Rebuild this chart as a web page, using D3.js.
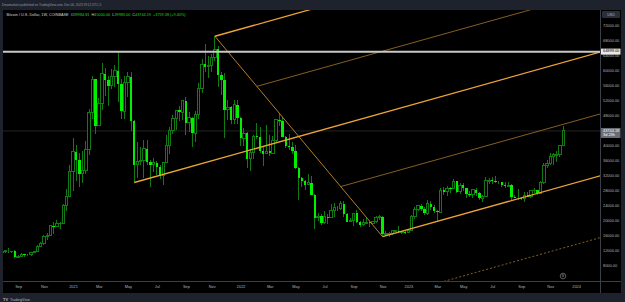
<!DOCTYPE html>
<html>
<head>
<meta charset="utf-8">
<script src="https://cdn.jsdelivr.net/npm/d3@7"></script>
<style>
	body { margin: 0; background: #1e222d; }
	svg { display: block; }
</style>
</head>
<body>
<div id="chart"></div>
<script>
	//
	// Data (weekly candles, COINBASE BTCUSD): [week, open, high, low, close]
	//
	var bars2020 = [
		["2020-08-03", 11230, 11900, 11000, 11680], ["2020-08-10", 11680, 12100, 11150, 11860],
		["2020-08-17", 11860, 12480, 11300, 11650], ["2020-08-24", 11650, 11800, 11150, 11710],
		["2020-08-31", 11710, 12090, 9960, 10250], ["2020-09-07", 10250, 10600, 9880, 10330],
		["2020-09-14", 10330, 11100, 10200, 10930], ["2020-09-21", 10930, 10990, 10140, 10770],
		["2020-09-28", 10770, 10950, 10530, 10670], ["2020-10-05", 10670, 11450, 10530, 11370],
		["2020-10-12", 11370, 11720, 11200, 11500], ["2020-10-19", 11500, 13350, 11400, 13030],
		["2020-10-26", 13030, 14100, 12900, 13760], ["2020-11-02", 13760, 15970, 13220, 15480],
		["2020-11-09", 15480, 16480, 14800, 15960], ["2020-11-16", 15960, 18800, 15800, 18420],
		["2020-11-23", 18420, 19480, 16200, 18200], ["2020-11-30", 18200, 19920, 18100, 19170],
		["2020-12-07", 19170, 19420, 17600, 19180], ["2020-12-14", 19180, 24300, 19000, 23850],
		["2020-12-21", 23850, 28400, 22400, 26250], ["2020-12-28", 26250, 34800, 26100, 33000]
	];
	var bars2021 = [
		["2021-01-04", 33000, 41950, 27730, 38180], ["2021-01-11", 38180, 40100, 30300, 36020],
		["2021-01-18", 36020, 37850, 28850, 32270], ["2021-01-25", 32270, 38500, 29900, 33110],
		["2021-02-01", 33110, 40950, 32300, 38880], ["2021-02-08", 38880, 49700, 37400, 48580],
		["2021-02-15", 48580, 58350, 47000, 57490], ["2021-02-22", 57490, 57500, 43000, 45140],
		["2021-03-01", 45140, 52650, 45000, 50970], ["2021-03-08", 50970, 61800, 49300, 59000],
		["2021-03-15", 59000, 60600, 53100, 57400], ["2021-03-22", 57400, 58400, 50400, 55800],
		["2021-03-29", 55800, 60200, 54900, 58200], ["2021-04-05", 58200, 61250, 55500, 59800],
		["2021-04-12", 59800, 64899, 51500, 56200], ["2021-04-19", 56200, 57500, 47050, 49000],
		["2021-04-26", 49000, 58500, 47000, 56600], ["2021-05-03", 56600, 59500, 52900, 58200],
		["2021-05-10", 58200, 59600, 43800, 46400], ["2021-05-17", 46400, 46600, 30000, 34700],
		["2021-05-24", 34700, 40900, 31100, 35600], ["2021-05-31", 35600, 39500, 34800, 35800],
		["2021-06-07", 35800, 41300, 31100, 39000], ["2021-06-14", 39000, 41300, 34800, 35500],
		["2021-06-21", 35500, 36000, 28800, 34700], ["2021-06-28", 34700, 36600, 32700, 35300],
		["2021-07-05", 35300, 35800, 32100, 34250], ["2021-07-12", 34250, 34700, 31000, 31800],
		["2021-07-19", 31800, 35400, 29300, 35400], ["2021-07-26", 35400, 42600, 35200, 39900],
		["2021-08-02", 39900, 44700, 37500, 43800], ["2021-08-09", 43800, 48100, 43000, 47000],
		["2021-08-16", 47000, 49400, 43900, 49300], ["2021-08-23", 49300, 50500, 46400, 48800],
		["2021-08-30", 48800, 52000, 46800, 51750], ["2021-09-06", 51750, 52900, 42800, 46000],
		["2021-09-13", 46000, 48850, 43400, 47250], ["2021-09-20", 47250, 47400, 39600, 43200],
		["2021-09-27", 43200, 49000, 40800, 48200], ["2021-10-04", 48200, 56600, 46900, 55000],
		["2021-10-11", 55000, 62900, 53900, 61500], ["2021-10-18", 61500, 67000, 59600, 60900],
		["2021-10-25", 60900, 63700, 57800, 61300], ["2021-11-01", 61300, 64300, 59400, 63300],
		["2021-11-08", 63300, 69000, 62300, 65500], ["2021-11-15", 65500, 66300, 55600, 58700],
		["2021-11-22", 58700, 59500, 53300, 57300], ["2021-11-29", 57300, 59200, 42000, 49400],
		["2021-12-06", 49400, 51950, 46800, 50100], ["2021-12-13", 50100, 50500, 45500, 46700],
		["2021-12-20", 46700, 52000, 45600, 50800], ["2021-12-27", 50800, 52100, 45700, 47300]
	];
	var bars2022 = [
		["2022-01-03", 47300, 47550, 39650, 41850], ["2022-01-10", 41850, 44500, 39700, 43100],
		["2022-01-17", 43100, 43500, 34000, 36300], ["2022-01-24", 36300, 38900, 32950, 37900],
		["2022-01-31", 37900, 42700, 36300, 42400], ["2022-02-07", 42400, 45850, 41700, 42200],
		["2022-02-14", 42200, 44750, 38000, 38400], ["2022-02-21", 38400, 39800, 34300, 37700],
		["2022-02-28", 37700, 45400, 37600, 38400], ["2022-03-07", 38400, 42600, 37200, 37800],
		["2022-03-14", 37800, 42300, 37500, 41300], ["2022-03-21", 41300, 46900, 40500, 46800],
		["2022-03-28", 46800, 48200, 45200, 46400], ["2022-04-04", 46400, 47500, 42100, 42200],
		["2022-04-11", 42200, 42400, 39200, 39700], ["2022-04-18", 39700, 42900, 38600, 39450],
		["2022-04-25", 39450, 40800, 37700, 38500], ["2022-05-02", 38500, 40000, 33700, 34000],
		["2022-05-09", 34000, 34250, 25400, 31300], ["2022-05-16", 31300, 31400, 28700, 30300],
		["2022-05-23", 30300, 30700, 28000, 29450], ["2022-05-30", 29450, 32250, 29300, 29900],
		["2022-06-06", 29900, 31700, 26550, 26600], ["2022-06-13", 26600, 26900, 17600, 20550],
		["2022-06-20", 20550, 22000, 19800, 21000], ["2022-06-27", 21000, 21550, 18600, 19300],
		["2022-07-04", 19300, 22500, 19000, 20850], ["2022-07-11", 20850, 21600, 18900, 20800],
		["2022-07-18", 20800, 24300, 20800, 22600], ["2022-07-25", 22600, 24650, 20700, 23300],
		["2022-08-01", 23300, 23650, 22400, 23200], ["2022-08-08", 23200, 25200, 22650, 24300],
		["2022-08-15", 24300, 25000, 20800, 21500], ["2022-08-22", 21500, 21900, 19550, 19550],
		["2022-08-29", 19550, 20600, 19600, 19800], ["2022-09-05", 19800, 21850, 18500, 21800],
		["2022-09-12", 21800, 22800, 19300, 19400], ["2022-09-19", 19400, 19700, 18150, 18800],
		["2022-09-26", 18800, 20400, 18500, 19300], ["2022-10-03", 19300, 20450, 19100, 19400],
		["2022-10-10", 19400, 19500, 18200, 19200], ["2022-10-17", 19200, 19700, 18900, 19600],
		["2022-10-24", 19600, 21000, 19250, 20800], ["2022-10-31", 20800, 21450, 20050, 20900],
		["2022-11-07", 20900, 21050, 15600, 16300], ["2022-11-14", 16300, 17200, 15800, 16300],
		["2022-11-21", 16300, 16800, 15500, 16450], ["2022-11-28", 16450, 17350, 16000, 17100],
		["2022-12-05", 17100, 17300, 16700, 17100], ["2022-12-12", 17100, 18400, 16600, 16750],
		["2022-12-19", 16750, 17000, 16300, 16850], ["2022-12-26", 16850, 16950, 16350, 16600]
	];
	var bars2023 = [
		["2023-01-02", 16600, 17400, 16500, 17100], ["2023-01-09", 17100, 21300, 17100, 20900],
		["2023-01-16", 20900, 23350, 20400, 22700], ["2023-01-23", 22700, 23800, 22300, 23750],
		["2023-01-30", 23750, 24250, 22500, 22950], ["2023-02-06", 22950, 23400, 21450, 21800],
		["2023-02-13", 21800, 25250, 21350, 24300], ["2023-02-20", 24300, 25100, 22750, 23550],
		["2023-02-27", 23550, 23900, 21950, 22400], ["2023-03-06", 22400, 22600, 19600, 22100],
		["2023-03-13", 22100, 28500, 21900, 27950], ["2023-03-20", 27950, 28850, 26650, 27500],
		["2023-03-27", 27500, 29150, 26500, 28450], ["2023-04-03", 28450, 28800, 27200, 28300],
		["2023-04-10", 28300, 31000, 28200, 30300], ["2023-04-17", 30300, 30500, 27150, 27600],
		["2023-04-24", 27600, 30000, 26950, 29250], ["2023-05-01", 29250, 29800, 27650, 28450],
		["2023-05-08", 28450, 28650, 25800, 26900], ["2023-05-15", 26900, 27650, 26100, 26750],
		["2023-05-22", 26750, 28250, 25850, 28050], ["2023-05-29", 28050, 28450, 26500, 27100],
		["2023-06-05", 27100, 27400, 25350, 25850], ["2023-06-12", 25850, 26800, 24800, 26350],
		["2023-06-19", 26350, 31400, 26250, 30500], ["2023-06-26", 30500, 31300, 29550, 30600],
		["2023-07-03", 30600, 31400, 29700, 30300], ["2023-07-10", 30300, 31800, 29950, 30250],
		["2023-07-17", 30250, 30350, 29550, 30050], ["2023-07-24", 30050, 30050, 28850, 29250],
		["2023-07-31", 29250, 30050, 28600, 29050], ["2023-08-07", 29050, 30250, 28700, 29300],
		["2023-08-14", 29300, 29700, 25200, 26100], ["2023-08-21", 26100, 26800, 25800, 26000],
		["2023-08-28", 26000, 28150, 25400, 25850], ["2023-09-04", 25850, 26100, 25350, 25830],
		["2023-09-11", 25830, 27500, 24900, 26550], ["2023-09-18", 26550, 27450, 26300, 26250],
		["2023-09-25", 26250, 28050, 26000, 27950], ["2023-10-02", 27950, 28600, 27200, 27950],
		["2023-10-09", 27950, 28000, 26550, 27150], ["2023-10-16", 27150, 30350, 26950, 29950],
		["2023-10-23", 29950, 35250, 29700, 34500], ["2023-10-30", 34500, 35950, 33950, 35000],
		["2023-11-06", 35000, 37950, 34550, 37050], ["2023-11-13", 37050, 37950, 34800, 37350],
		["2023-11-20", 37350, 38450, 35600, 37450], ["2023-11-27", 37450, 40000, 36700, 39985],
		["2023-12-04", 39984.81, 45000, 39983, 43744.19]
	];

	var priceTicks = [8000, 12000, 16000, 20000, 24000, 28000, 32000, 36000, 40000, 44000, 48000, 52000, 56000, 60000, 64000, 68000, 72000];
	var monthTicks = ["2020-09-07", "2020-11-02", "2021-01-04", "2021-03-01", "2021-05-03", "2021-07-05", "2021-09-06", "2021-11-01",
		"2022-01-03", "2022-03-07", "2022-05-02", "2022-07-04", "2022-09-05", "2022-11-07", "2023-01-02", "2023-03-06",
		"2023-05-01", "2023-07-03", "2023-09-04", "2023-11-06", "2024-01-01"];
	var monthLabels = ["Sep", "Nov", "2021", "Mar", "May", "Jul", "Sep", "Nov", "2022", "Mar", "May", "Jul", "Sep", "Nov",
		"2023", "Mar", "May", "Jul", "Sep", "Nov", "2024"];

	// Pitchfork anchors: handle, top, bottom
	var forkDates = ["2021-05-17", "2021-11-08", "2022-11-07"];
	var forkPrices = [30000, 69000, 15550];
	var forkLevels = [-0.25, 0, 0.25, 0.75, 1, 1.25]; // fraction along top->bottom where parallels start

	var hlinePrice = 64899;
	var lastPrice = 43744.19;

	var headerTop = "Dreamarkets published on TradingView.com, Dec 06, 2023 19:12 UTC-5";
	var headerSymbol = "Bitcoin / U.S. Dollar, 1W, COINBASE";
	var headerOHLC = [["O", "39984.81"], ["H", "45000.00"], ["L", "39983.00"], ["C", "43744.19"], ["", "+3759.38 (+9.40%)"]];

	var font = "'Liberation Sans', Arial, sans-serif";
	var axisColor = "#b2b5be";

	//
	// Setup
	//
	var svg_width = 625,
		svg_height = 302;
	var plotLeft = 3, plotRight = 600, plotTop = 10, plotBottom = 281;

	var parseDate = d3.utcParse("%Y-%m-%d");
	var bars = bars2020.concat(bars2021, bars2022, bars2023);

	var xScale = d3.scaleUtc()
		.domain([parseDate("2021-01-04"), parseDate("2023-12-04")])
		.range([73, 563.2]);
	var yScale = d3.scaleLinear().domain([0, 72000]).range([295, 25]);

	var svg = d3.select("#chart").append("svg")
		.attr("width", svg_width)
		.attr("height", svg_height)
		.style("font-family", font);

	// Frame + black panel
	svg.append("rect").attr("width", svg_width).attr("height", svg_height).attr("fill", "#1e222d");
	svg.append("rect").attr("x", plotLeft).attr("y", plotTop).attr("width", 621 - plotLeft).attr("height", 293 - plotTop).attr("fill", "#000");

	svg.append("defs").append("clipPath").attr("id", "plot-clip")
		.append("rect").attr("x", plotLeft).attr("y", plotTop).attr("width", plotRight - plotLeft).attr("height", plotBottom - plotTop);

	var plot = svg.append("g").attr("clip-path", "url(#plot-clip)");

	// Last price line
	plot.append("line")
		.attr("x1", plotLeft).attr("x2", plotRight)
		.attr("y1", yScale(lastPrice)).attr("y2", yScale(lastPrice))
		.attr("stroke", "#2c2c2c").attr("stroke-width", 0.8);

	//
	// Candles
	//
	var candleW = 2.4;
	var candles = plot.selectAll(".candle")
		.data(bars)
		.enter()
		.append("g")
		.attr("class", "candle")
		.attr("shape-rendering", "crispEdges");

	candles.append("line")
		.attr("x1", function(d) { return xScale(parseDate(d[0])); })
		.attr("x2", function(d) { return xScale(parseDate(d[0])); })
		.attr("y1", function(d) { return yScale(d[2]); })
		.attr("y2", function(d) { return yScale(d[3]); })
		.attr("stroke", "#127a12")
		.attr("stroke-width", 1);

	candles.append("rect")
		.attr("x", function(d) { return xScale(parseDate(d[0])) - candleW / 2; })
		.attr("y", function(d) { return yScale(Math.max(d[1], d[4])); })
		.attr("width", candleW)
		.attr("height", function(d) { return Math.max(0.8, Math.abs(yScale(d[1]) - yScale(d[4]))); })
		.attr("fill", function(d) { return d[4] >= d[1] ? "#000" : "#00f000"; })
		.attr("stroke", function(d) { return d[4] >= d[1] ? "#127a12" : "none"; })
		.attr("stroke-width", 1);

	//
	// Pitchfork
	//
	var pts = forkDates.map(function(d, i) { return [xScale(parseDate(d)), yScale(forkPrices[i])]; });
	var A = pts[0], B = pts[1], C = pts[2];
	var M = [(B[0] + C[0]) / 2, (B[1] + C[1]) / 2];
	var dir = [M[0] - A[0], M[1] - A[1]];

	function toRight(p) {
		var k = (620 - p[0]) / dir[0];
		return [620, p[1] + k * dir[1]];
	}

	var forkLines = [{ p: A, kind: "main" }];
	forkLevels.forEach(function(t) {
		var kind = (t == 0 || t == 1) ? "main" : (t == 0.25 || t == 0.75) ? "half" : "ext";
		forkLines.push({ p: [B[0] + t * (C[0] - B[0]), B[1] + t * (C[1] - B[1])], kind: kind });
	});

	plot.append("line")
		.attr("x1", B[0]).attr("y1", B[1]).attr("x2", C[0]).attr("y2", C[1])
		.attr("stroke", "#c98b2c").attr("stroke-width", 0.9);

	plot.selectAll(".fork-line")
		.data(forkLines)
		.enter()
		.append("line")
		.attr("class", "fork-line")
		.attr("x1", function(d) { return d.p[0]; })
		.attr("y1", function(d) { return d.p[1]; })
		.attr("x2", function(d) { return toRight(d.p)[0]; })
		.attr("y2", function(d) { return toRight(d.p)[1]; })
		.attr("stroke", function(d) { return d.kind == "main" ? "#eca437" : "#a8762a"; })
		.attr("stroke-width", function(d) { return d.kind == "main" ? 1.3 : 0.8; })
		.attr("stroke-dasharray", function(d) { return d.kind == "ext" ? "2,2" : null; });

	// Horizontal level
	plot.append("line")
		.attr("x1", plotLeft).attr("x2", plotRight)
		.attr("y1", yScale(hlinePrice)).attr("y2", yScale(hlinePrice))
		.attr("stroke", "#c8c8c8").attr("stroke-width", 2);

	//
	// Axes
	//
	svg.append("line").attr("x1", plotRight + 0.5).attr("x2", plotRight + 0.5).attr("y1", plotTop).attr("y2", 293)
		.attr("stroke", "#3a3e48").attr("stroke-width", 1);
	svg.append("line").attr("x1", plotLeft).attr("x2", 621).attr("y1", plotBottom + 0.5).attr("y2", plotBottom + 0.5)
		.attr("stroke", "#3a3e48").attr("stroke-width", 1);

	var yAxis = d3.axisRight(yScale).tickValues(priceTicks).tickSize(0).tickPadding(3).tickFormat(d3.format(".2f"));
	var yg = svg.append("g").attr("transform", "translate(" + plotRight + ",0)").call(yAxis);
	yg.select(".domain").remove();
	yg.selectAll("text").attr("fill", axisColor).attr("font-size", 3.9).attr("font-family", font);

	var xAxis = d3.axisBottom(xScale)
		.tickValues(monthTicks.map(parseDate))
		.tickSize(0).tickPadding(4.2)
		.tickFormat(function(d, i) { return monthLabels[i]; });
	var xg = svg.append("g").attr("transform", "translate(0," + plotBottom + ")").call(xAxis);
	xg.select(".domain").remove();
	xg.selectAll("text").attr("fill", axisColor).attr("font-size", 3.9).attr("font-family", font);

	// Price labels
	function priceLabel(py, h, bg, fg, lines) {
		svg.append("rect").attr("x", plotRight + 1).attr("y", py - h / 2).attr("width", 19.5).attr("height", h).attr("fill", bg);
		lines.forEach(function(t, i) {
			svg.append("text").attr("x", plotRight + 3).attr("y", py - h / 2 + 3.6 + i * 4.2)
				.attr("font-size", 3.9).attr("fill", fg).text(t);
		});
	}
	priceLabel(yScale(hlinePrice), 6, "#e8e8e8", "#000", [d3.format(".2f")(hlinePrice)]);
	priceLabel(yScale(lastPrice) + 2, 10, "#6a6d78", "#fff", [d3.format(".2f")(lastPrice), "3d 23h"]);

	// Currency box
	svg.append("rect").attr("x", 602).attr("y", 11).attr("width", 18).attr("height", 7).attr("rx", 1).attr("fill", "#2a2e39");
	svg.append("text").attr("x", 611).attr("y", 15.8).attr("text-anchor", "middle")
		.attr("font-size", 3.6).attr("fill", axisColor).text("USD");

	// Event marker
	svg.append("circle").attr("cx", 563).attr("cy", 276).attr("r", 2.8)
		.attr("fill", "none").attr("stroke", "#9598a1").attr("stroke-width", 0.6);
	svg.append("text").attr("x", 563).attr("y", 277.3).attr("text-anchor", "middle")
		.attr("font-size", 3.6).attr("fill", "#9598a1").text("B");

	//
	// Header text
	//
	svg.append("text").attr("x", 2).attr("y", 6.2).attr("font-size", 3.1).attr("fill", "#9598a1").text(headerTop);

	var h2 = svg.append("text").attr("x", 6.5).attr("y", 15.6).attr("font-size", 3.8).attr("fill", "#d1d4dc")
		.attr("xml:space", "preserve");
	h2.append("tspan").text(headerSymbol + "  ");
	headerOHLC.forEach(function(p) {
		h2.append("tspan").attr("fill", "#d1d4dc").text(p[0]);
		h2.append("tspan").attr("fill", "#22d322").text(p[1] + "  ");
	});

	// Footer logo
	svg.append("text").attr("x", 3).attr("y", 301.3).attr("font-size", 4).attr("font-weight", "bold")
		.attr("fill", axisColor).text("TV");
	svg.append("text").attr("x", 10).attr("y", 301.3).attr("font-size", 3.6).attr("fill", axisColor).text("TradingView");
</script>
</body>
</html>
